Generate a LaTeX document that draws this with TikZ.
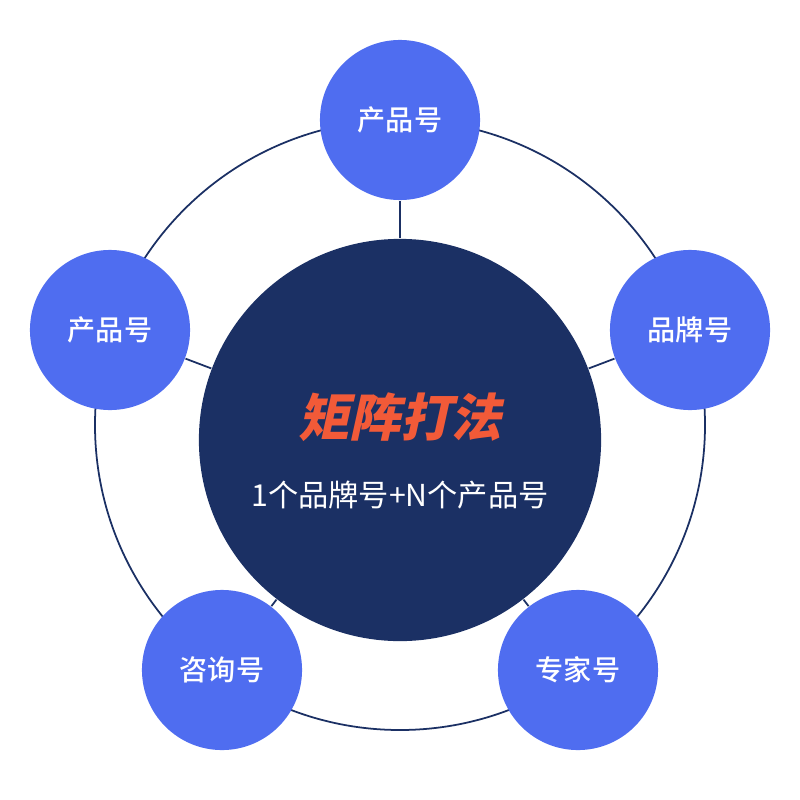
\documentclass[tikz,border=0pt]{standalone}
\usepackage{fontspec}
\newfontfamily\cjk{Noto Sans CJK SC}
\newfontfamily\cjkmid{Noto Sans CJK SC Medium}
\newfontfamily\cjkslant{Noto Sans CJK SC}[FakeSlant=0.22]
\usetikzlibrary{positioning}
\definecolor{petal}{HTML}{4F6DF0}
\definecolor{navy}{HTML}{1B3064}
\definecolor{title}{HTML}{F25A38}
\definecolor{ring}{HTML}{1B3064}

\begin{document}
\begin{tikzpicture}[x=0.01cm, y=-0.01cm,
    petalnode/.style={circle, fill=petal, minimum size=1.6cm, inner sep=0pt,
      text=white, font=\cjkmid\fontsize{8}{9}\selectfont},
    hubnode/.style={circle, fill=navy, minimum size=4.02cm, inner sep=0pt},
    spoke/.style={ring, line width=0.5pt}]
    % frame
    \useasboundingbox (0,0) rectangle (800,800);
    % outer ring
    \draw[spoke] (400,425) circle (305);

    % hub and petals
    \node[petalnode] (top) at (400,120) {产品号};
    \node[petalnode] (left) at (110,330) {产品号};
    \node[petalnode] (right) at (690,330) {品牌号};
    \node[petalnode] (lowleft) at (222,670) {咨询号};
    \node[petalnode] (lowright) at (578,670) {专家号};
    \node[hubnode] (hub) at (400,440) {};

    % spokes
    \foreach \p in {top,left,right,lowleft,lowright}
      \draw[spoke] (hub) -- (\p);

    % texts
    \node[text=title, font=\cjkslant\bfseries\fontsize{14.5}{16}\selectfont] (head) at (400,417) {矩阵打法};
    \node[text=white, font=\cjk\fontsize{8.6}{10}\selectfont, below=0.15cm of head] (sub) {1个品牌号+N个产品号};
\end{tikzpicture}
\end{document}
